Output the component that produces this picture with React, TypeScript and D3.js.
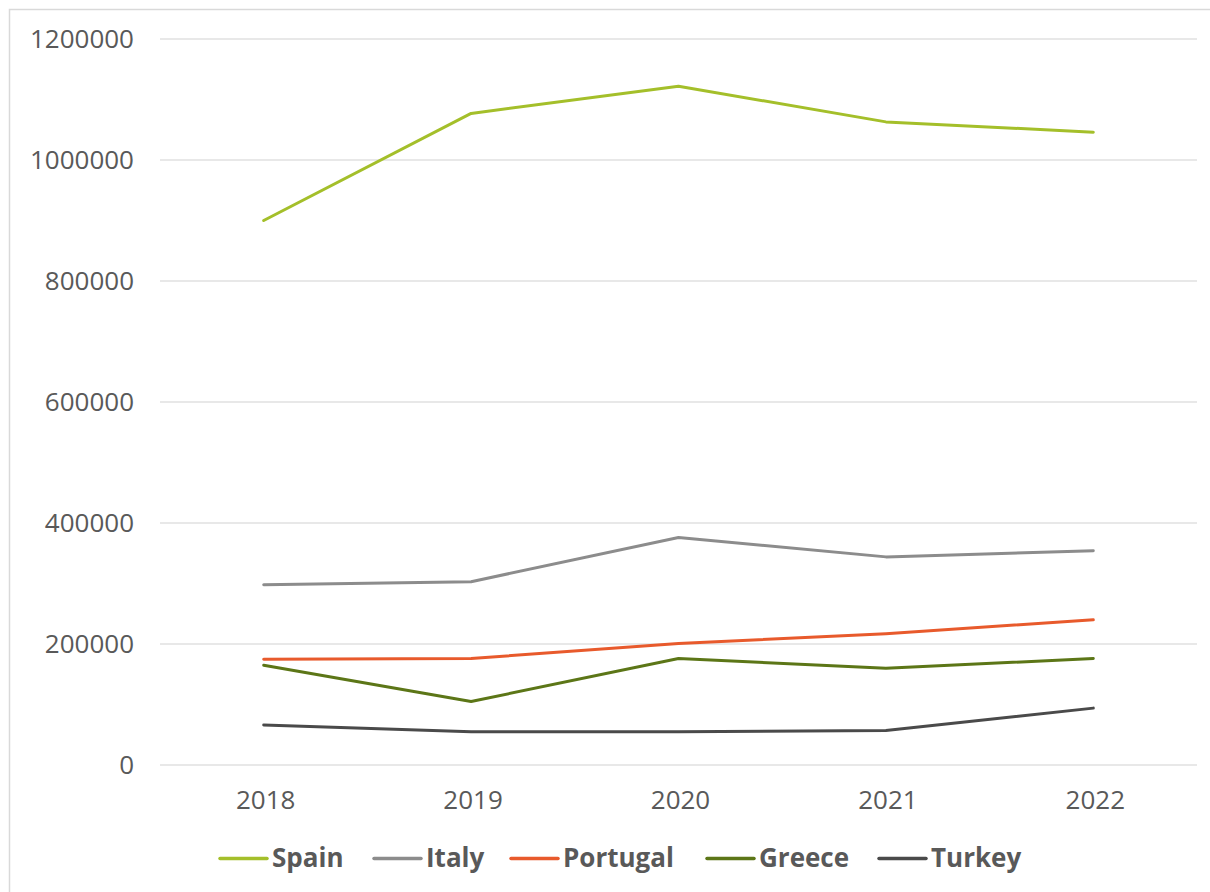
import React from "react";
import * as d3 from "d3";

const years = ["2018", "2019", "2020", "2021", "2022"];
const yTicks = [0, 200000, 400000, 600000, 800000, 1000000, 1200000];

const seriesNames = ["Spain", "Italy", "Portugal", "Greece", "Turkey"];
const spain = [900000, 1077000, 1122000, 1063000, 1046000];
const italy = [298000, 303000, 376000, 344000, 354000];
const portugal = [175000, 176000, 201000, 217000, 240000];
const greece = [165000, 105000, 176000, 160000, 176000];
const turkey = [66000, 55000, 55000, 57000, 94000];
const colors = ["#a4bf2a", "#8c8c8c", "#e85a2c", "#5c7617", "#4a4a4a"];

const seriesValues = [spain, italy, portugal, greece, turkey];

const W = 1210;
const H = 892;
const plot = { left: 160, right: 1197, top: 39, bottom: 765 };
const legendItems = [
  { lineX: 220, textX: 272 },
  { lineX: 374, textX: 426 },
  { lineX: 511, textX: 563 },
  { lineX: 707, textX: 759 },
  { lineX: 879, textX: 931 },
];

export default function App() {
  const x = d3
    .scalePoint<string>()
    .domain(years)
    .range([plot.left, plot.right])
    .padding(0.5);
  const y = d3.scaleLinear().domain([0, 1200000]).range([plot.bottom, plot.top]);
  const line = d3
    .line<number>()
    .x((_, i) => x(years[i]) as number)
    .y((v) => y(v));
  const font = "'Open Sans', sans-serif";
  return (
    <div style={{ position: "fixed", left: 0, top: 0, width: W, height: H, background: "#fff" }}>
      <svg width={W} height={H} style={{ display: "block" }}>
        <rect x={0} y={0} width={W} height={H} fill="#fff" />
        <rect x={9.5} y={9.5} width={W + 10} height={H + 10} fill="none" stroke="#d9d9d9" strokeWidth={1.5} />
        {yTicks.map((t) => (
          <g key={t}>
            <line x1={plot.left} x2={plot.right} y1={y(t)} y2={y(t)} stroke="#e0e0e0" strokeWidth={1.5} />
            <text
              x={134}
              y={y(t)}
              dy="0.35em"
              textAnchor="end"
              fontFamily={font}
              fontSize={26}
              fill="#595959"
            >
              {t}
            </text>
          </g>
        ))}
        {years.map((yr) => (
          <text
            key={yr}
            x={(x(yr) as number) + 2}
            y={809}
            textAnchor="middle"
            fontFamily={font}
            fontSize={26}
            fill="#595959"
          >
            {yr}
          </text>
        ))}
        {seriesValues.map((vals, i) => (
          <path
            key={seriesNames[i]}
            d={line(vals) as string}
            fill="none"
            stroke={colors[i]}
            strokeWidth={3}
            strokeLinejoin="round"
            strokeLinecap="round"
          />
        ))}
        {seriesNames.map((name, i) => (
          <g key={name}>
            <line
              x1={legendItems[i].lineX}
              x2={legendItems[i].lineX + 47}
              y1={858.5}
              y2={858.5}
              stroke={colors[i]}
              strokeWidth={3.5}
              strokeLinecap="round"
            />
            <text
              x={legendItems[i].textX}
              y={867}
              fontFamily={font}
              fontWeight="bold"
              fontSize={26}
              fill="#595959"
            >
              {name}
            </text>
          </g>
        ))}
      </svg>
    </div>
  );
}
